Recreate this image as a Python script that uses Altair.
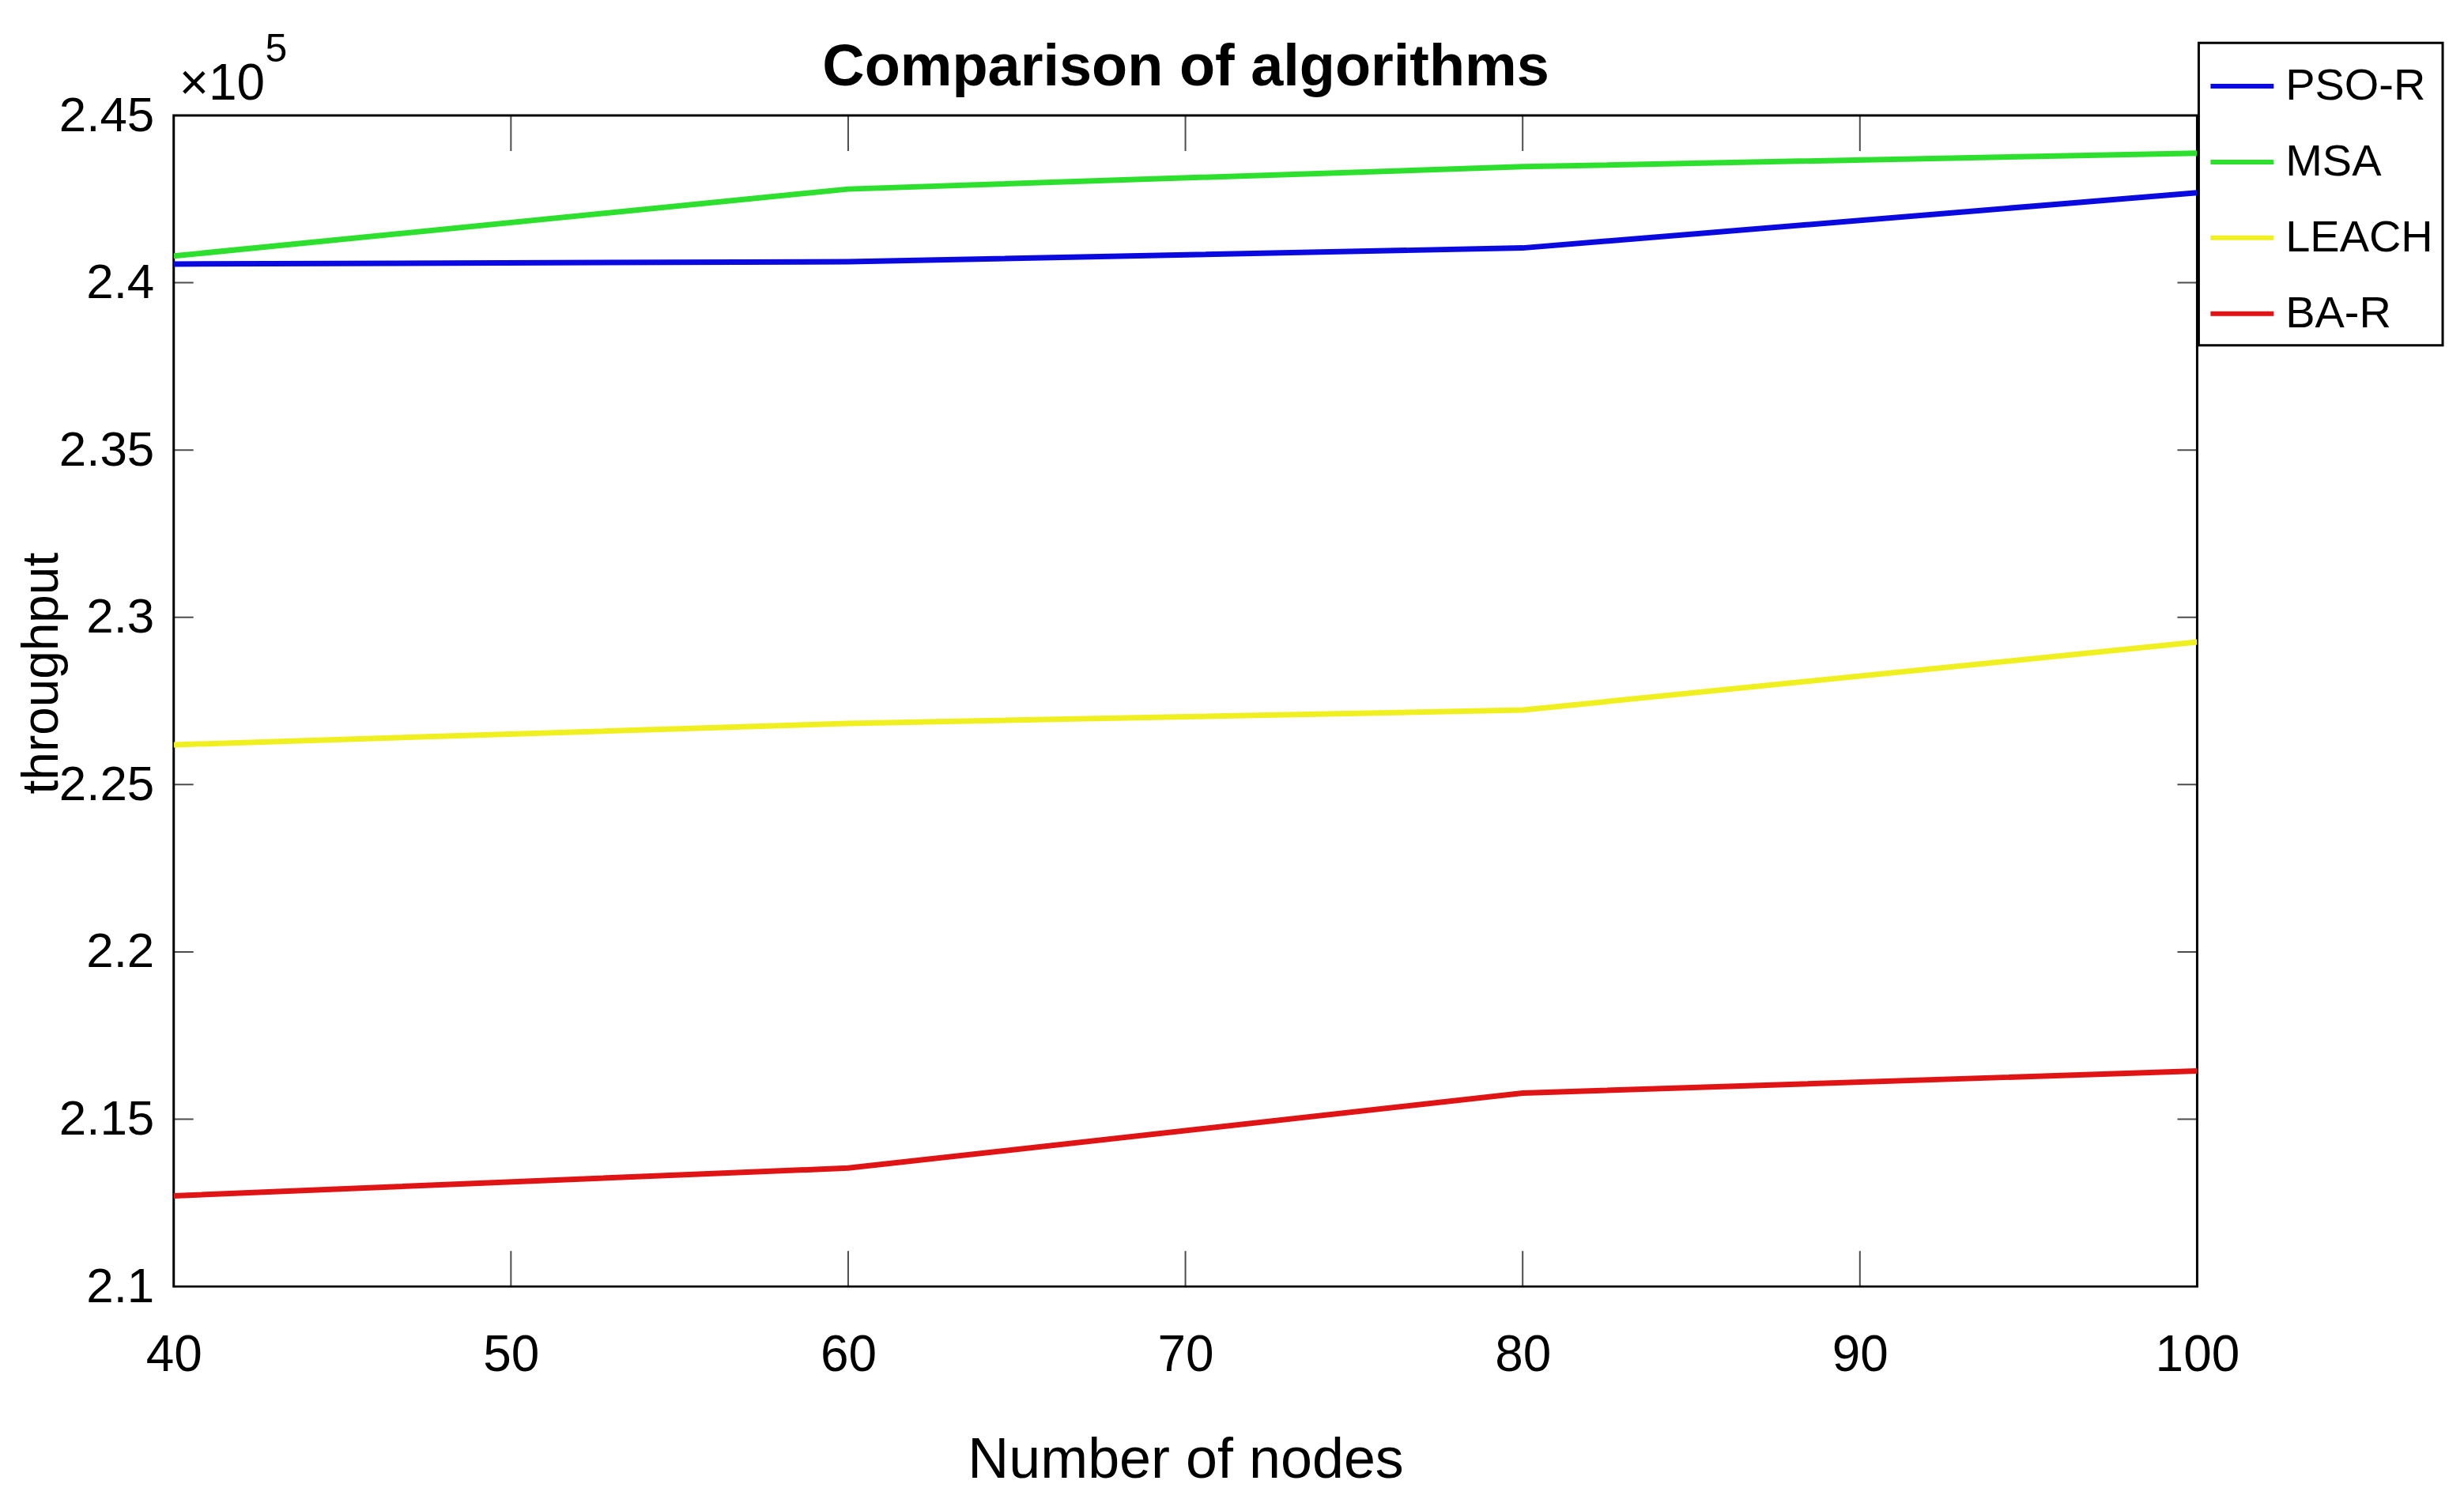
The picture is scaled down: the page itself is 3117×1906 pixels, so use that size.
import altair as alt
import pandas as pd

# ---------------- data ----------------
nodes = [40, 60, 80, 100]
pso_r = [240560, 240630, 241040, 242690]
msa = [240800, 242800, 243470, 243870]
leach = [226190, 226830, 227230, 229260]
ba_r = [212710, 213540, 215780, 216440]

series_names = ["PSO-R", "MSA", "LEACH", "BA-R"]
series_colors = ["#0a0ae0", "#2ee02e", "#f0f020", "#e01414"]

x_ticks = [40, 50, 60, 70, 80, 90, 100]
y_ticks = [2.1, 2.15, 2.2, 2.25, 2.3, 2.35, 2.4, 2.45]

title_text = "Comparison of algorithms"
x_title = "Number of nodes"
y_title = "throughput"
exp_base = "×10"
exp_power = "5"

# ---------------- tables ----------------
rows = []
for name, vals in zip(series_names, [pso_r, msa, leach, ba_r]):
    for n, v in zip(nodes, vals):
        rows.append({"nodes": n, "raw": v, "series": name})
df = pd.DataFrame(rows)

xt_df = pd.DataFrame({
    "nodes": x_ticks * 2,
    "tp": [y_ticks[0]] * len(x_ticks) + [y_ticks[-1]] * len(x_ticks),
})
yt_df = pd.DataFrame({
    "nodes": [x_ticks[0]] * len(y_ticks) + [x_ticks[-1]] * len(y_ticks),
    "tp": y_ticks * 2,
})

FONT = "Liberation Sans, Arial, Helvetica, sans-serif"

x_enc = alt.X(
    "nodes:Q",
    scale=alt.Scale(domain=[x_ticks[0], x_ticks[-1]], nice=False, zero=False),
    axis=alt.Axis(
        values=x_ticks, format="d", title=x_title,
        labelFontSize=64, labelPadding=56, labelFlush=False,
        titleFontSize=72, titleY=242, titleBaseline="alphabetic",
    ),
)
y_enc = alt.Y(
    "tp:Q",
    scale=alt.Scale(domain=[y_ticks[0], y_ticks[-1]], nice=False, zero=False),
    axis=alt.Axis(
        values=y_ticks, format=".2~f", title=y_title,
        labelFontSize=62, labelPadding=25, labelFlush=False,
        titleFontSize=64, titleAngle=-90, titleX=-147, titleY=706,
        titleAlign="center", titleBaseline="alphabetic",
    ),
)

lines = alt.Chart(df).transform_calculate(
    tp="datum.raw / 100000"
).mark_line(strokeWidth=7, clip=True).encode(
    x=x_enc,
    y=y_enc,
    color=alt.Color(
        "series:N",
        scale=alt.Scale(domain=series_names, range=series_colors),
        legend=alt.Legend(title=None, orient="none", legendX=2565, legendY=-92),
    ),
    detail="series:N",
)

x_inner_ticks = alt.Chart(xt_df).mark_tick(
    orient="vertical", size=90, thickness=2, color="black", clip=True
).encode(x=x_enc, y=y_enc)

y_inner_ticks = alt.Chart(yt_df).mark_tick(
    orient="horizontal", size=50, thickness=2, color="black", clip=True
).encode(x=x_enc, y=y_enc)

title_mark = alt.Chart(pd.DataFrame({"t": [title_text]})).mark_text(
    font=FONT, fontSize=74, fontWeight="bold", align="center",
    baseline="alphabetic", color="black"
).encode(x=alt.value(1282), y=alt.value(-38), text="t:N")

exp_mark = alt.Chart(pd.DataFrame({"t": [exp_base]})).mark_text(
    font=FONT, fontSize=64, align="left", baseline="alphabetic", color="black"
).encode(x=alt.value(7), y=alt.value(-20), text="t:N")

pow_mark = alt.Chart(pd.DataFrame({"t": [exp_power]})).mark_text(
    font=FONT, fontSize=50, align="left", baseline="alphabetic", color="black"
).encode(x=alt.value(116), y=alt.value(-68), text="t:N")

chart = alt.layer(
    lines, x_inner_ticks, y_inner_ticks, title_mark, exp_mark, pow_mark
).properties(
    width=2563, height=1483,
    autosize=alt.AutoSizeParams(type="none"),
    padding={"left": 212, "top": 137, "right": 330, "bottom": 260},
    background="white",
).configure_view(
    stroke="black", strokeWidth=3
).configure_axis(
    labelFont=FONT, titleFont=FONT, labelColor="black", titleColor="black",
    titleFontWeight="normal", grid=False, domain=False, ticks=False,
).configure_legend(
    labelFont=FONT, labelFontSize=56, labelColor="black", labelLimit=400,
    symbolType="stroke", symbolSize=6400, symbolStrokeWidth=6,
    symbolOpacity=1, padding=12, labelOffset=12, rowPadding=25,
    strokeColor="black", strokeWidth=3, fillColor="white",
)

chart.save("out.html", embed_options={"renderer": "svg", "actions": False})
